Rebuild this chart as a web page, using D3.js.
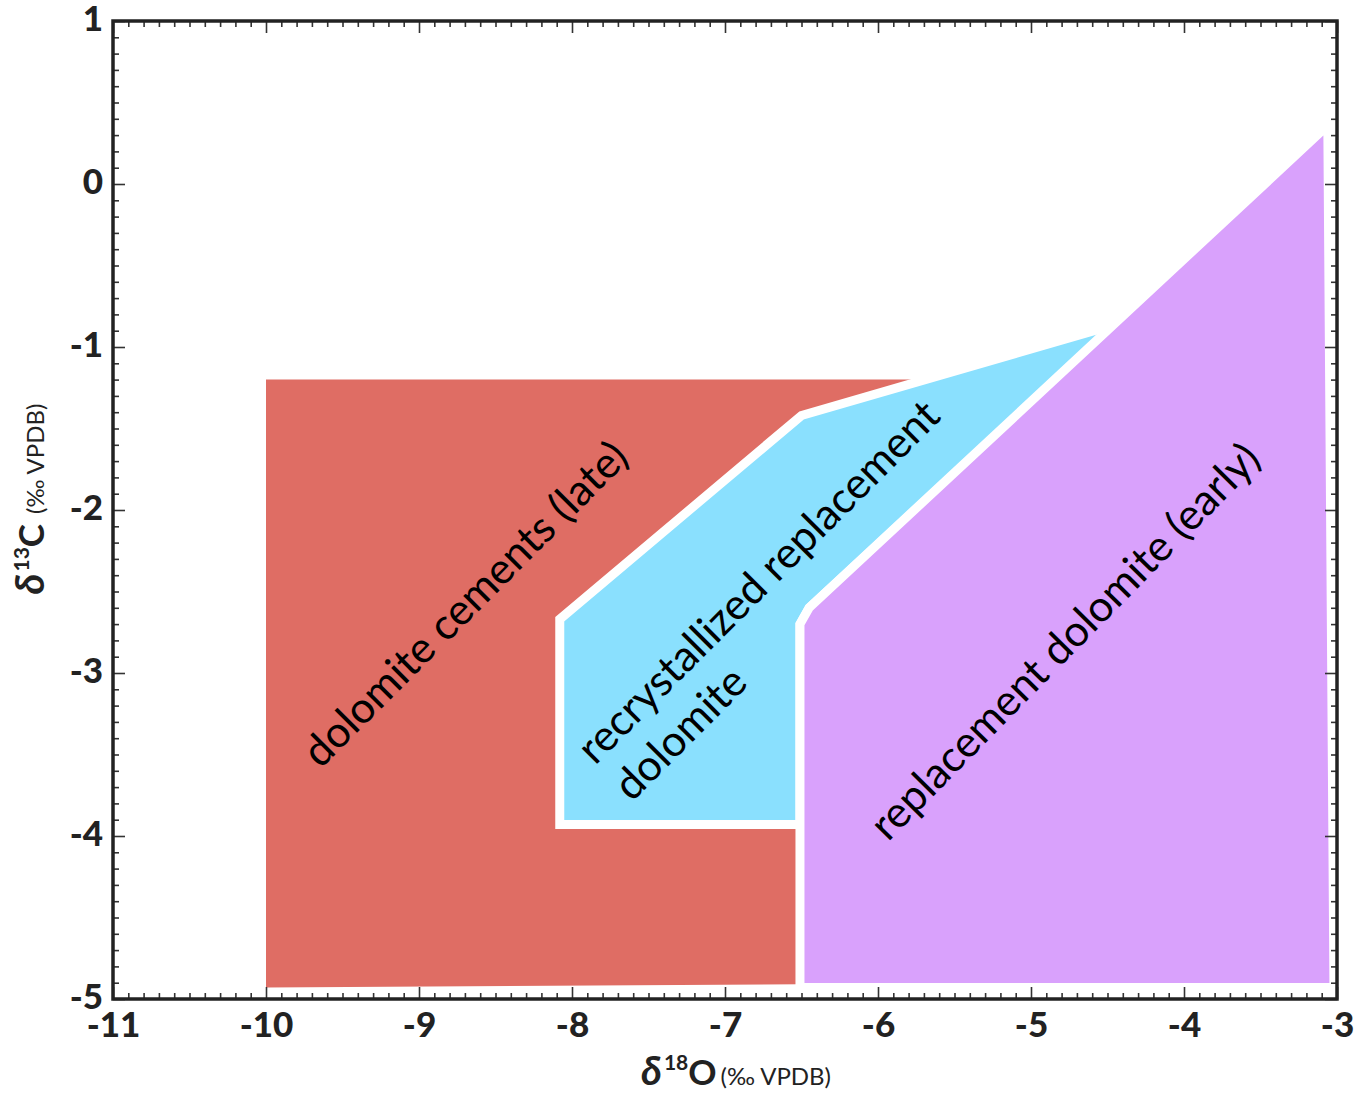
<!DOCTYPE html>
<html>
<head>
<meta charset="utf-8">
<script src="https://cdn.jsdelivr.net/npm/d3@7"></script>
<style>
  html, body { margin: 0; padding: 0; background: #fff; }
  svg { display: block; font-family: Lato, "Open Sans", sans-serif; }
</style>
</head>
<body>
<svg id="chart" width="1366" height="1097"></svg>
<script>
// Axis ranges and tick labels (δ18O on x, δ13C on y, ‰ VPDB)
const xDomain = [-11, -3];
const yDomain = [-5, 1];
const xTickLabels = [-11, -10, -9, -8, -7, -6, -5, -4, -3];
const yTickLabels = [-5, -4, -3, -2, -1, 0, 1];

// Field outlines, [δ18O, δ13C]
const cementsLate = [[-10.0, -1.2], [-5.70, -1.2], [-6.51, -1.51], [-6.51, -4.91], [-10.0, -4.93]];
const recrystallized = [[-8.08, -2.67], [-8.08, -3.93], [-6.51, -3.93], [-6.51, -2.70],
                        [-6.45, -2.60], [-4.44, -0.86], [-6.50, -1.42]];
const replacementEarly = [[-6.51, -4.93], [-6.51, -2.70], [-6.45, -2.60], [-3.06, 0.36], [-3.02, -4.93]];

// Field names and where they are written (baseline anchor, rotation in degrees)
const fieldLabels = [
  { lines: ["dolomite cements (late)"], at: [-8.63, -2.64], angle: -45, anchor: "middle" },
  { lines: ["recrystallized replacement", "dolomite"], at: [-7.85, -3.57], angle: -45, anchor: "start" },
  { lines: ["replacement dolomite (early)"], at: [-4.71, -2.87], angle: -45.5, anchor: "middle" }
];

const fieldColors = { cements: "#DF6D64", recryst: "#8AE0FE", early: "#D9A1FC" };

const svg = d3.select("#chart");
const plotL = 113, plotR = 1337, plotT = 21, plotB = 999;

const x = d3.scaleLinear().domain(xDomain).range([plotL, plotR]);
const y = d3.scaleLinear().domain(yDomain).range([plotB, plotT]);

const outline = d3.line().x(d => x(d[0])).y(d => y(d[1])).curve(d3.curveLinearClosed);

const fields = svg.append("g");
fields.append("path").attr("d", outline(cementsLate)).attr("fill", fieldColors.cements);
fields.append("path").attr("d", outline(recrystallized)).attr("fill", fieldColors.recryst)
  .attr("stroke", "#fff").attr("stroke-width", 9).attr("stroke-linejoin", "miter");
fields.append("path").attr("d", outline(replacementEarly)).attr("fill", fieldColors.early)
  .attr("stroke", "#fff").attr("stroke-width", 9).attr("stroke-linejoin", "miter");

// Field labels
const labels = svg.append("g").attr("font-size", 43).attr("fill", "#000");
fieldLabels.forEach(f => {
  const t = labels.append("text")
    .attr("text-anchor", f.anchor)
    .attr("transform", `translate(${x(f.at[0])},${y(f.at[1])}) rotate(${f.angle})`);
  f.lines.forEach((s, i) => {
    t.append("tspan").attr("x", 0).attr("y", i * 52).text(s);
  });
});

// Ticks: minor every 0.1, major at integers, on all four sides, pointing inward
const minorX = d3.range(-110, -29).map(v => v / 10).filter(v => Math.abs(v - Math.round(v)) > 1e-6);
const minorY = d3.range(-50, 11).map(v => v / 10).filter(v => Math.abs(v - Math.round(v)) > 1e-6);
const tickStroke = "#333";
const plainNumber = d => String(d);

function styleAxis(g) {
  g.select(".domain").remove();
  g.selectAll(".tick line").attr("stroke", tickStroke).attr("stroke-width", 1.6);
}
function styleLabels(g) {
  g.selectAll("text").attr("font-family", "Lato, sans-serif").attr("font-size", 35)
    .attr("font-weight", 900).attr("fill", "#222");
}

const axes = svg.append("g");
// bottom
axes.append("g").attr("transform", `translate(0,${plotB})`)
  .call(d3.axisBottom(x).tickValues(minorX).tickSizeInner(-6).tickSizeOuter(0).tickFormat(""))
  .call(styleAxis);
axes.append("g").attr("transform", `translate(0,${plotB})`)
  .call(d3.axisBottom(x).tickValues(xTickLabels).tickSizeInner(-12).tickSizeOuter(0).tickPadding(13).tickFormat(plainNumber))
  .call(styleAxis).call(styleLabels);
// top
axes.append("g").attr("transform", `translate(0,${plotT})`)
  .call(d3.axisTop(x).tickValues(minorX).tickSizeInner(-6).tickSizeOuter(0).tickFormat(""))
  .call(styleAxis);
axes.append("g").attr("transform", `translate(0,${plotT})`)
  .call(d3.axisTop(x).tickValues(xTickLabels).tickSizeInner(-12).tickSizeOuter(0).tickFormat(""))
  .call(styleAxis);
// left
axes.append("g").attr("transform", `translate(${plotL},0)`)
  .call(d3.axisLeft(y).tickValues(minorY).tickSizeInner(-6).tickSizeOuter(0).tickFormat(""))
  .call(styleAxis);
axes.append("g").attr("transform", `translate(${plotL},0)`)
  .call(d3.axisLeft(y).tickValues(yTickLabels).tickSizeInner(-12).tickSizeOuter(0).tickPadding(10).tickFormat(plainNumber))
  .call(styleAxis).call(styleLabels)
  .call(g => g.selectAll("text").attr("dy", "0.27em"));
// right
axes.append("g").attr("transform", `translate(${plotR},0)`)
  .call(d3.axisRight(y).tickValues(minorY).tickSizeInner(-6).tickSizeOuter(0).tickFormat(""))
  .call(styleAxis);
axes.append("g").attr("transform", `translate(${plotR},0)`)
  .call(d3.axisRight(y).tickValues(yTickLabels).tickSizeInner(-12).tickSizeOuter(0).tickFormat(""))
  .call(styleAxis);

// Frame
svg.append("rect")
  .attr("x", plotL).attr("y", plotT)
  .attr("width", plotR - plotL).attr("height", plotB - plotT)
  .attr("fill", "none").attr("stroke", "#222").attr("stroke-width", 3.5);

// Axis titles
const xTitle = svg.append("text")
  .attr("x", 736).attr("y", 1085).attr("text-anchor", "middle").attr("fill", "#222");
xTitle.append("tspan").attr("font-size", 40).attr("font-weight", "bold").attr("font-style", "italic").text("δ");
xTitle.append("tspan").attr("font-size", 21).attr("font-weight", "bold").attr("dy", -15).attr("dx", 2).text("18");
xTitle.append("tspan").attr("font-size", 35).attr("font-weight", "bold").attr("dy", 15).text("O");
xTitle.append("tspan").attr("font-size", 24).attr("dx", 4).text("(‰ VPDB)");

const yTitle = svg.append("text")
  .attr("transform", "translate(44,499) rotate(-90)").attr("text-anchor", "middle").attr("fill", "#222");
yTitle.append("tspan").attr("font-size", 40).attr("font-weight", "bold").attr("font-style", "italic").text("δ");
yTitle.append("tspan").attr("font-size", 21).attr("font-weight", "bold").attr("dy", -15).attr("dx", 2).text("13");
yTitle.append("tspan").attr("font-size", 35).attr("font-weight", "bold").attr("dy", 15).text("C");
yTitle.append("tspan").attr("font-size", 24).attr("dx", 10).text("(‰ VPDB)");
</script>
</body>
</html>
